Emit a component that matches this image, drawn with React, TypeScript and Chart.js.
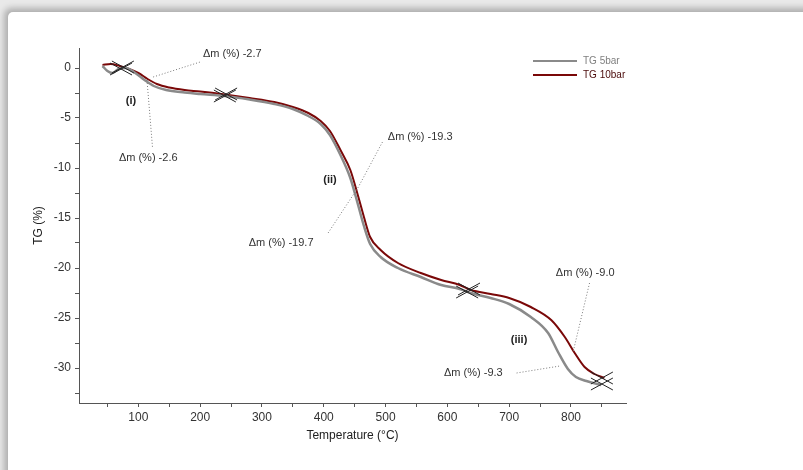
import React, { useEffect, useRef } from 'react';
import { Chart, registerables } from 'chart.js';

Chart.register(...registerables);

// ---- Data ----
const T_10BAR = [42, 55, 70, 85, 100, 115, 130, 150, 175, 200, 240, 280, 320, 350, 375, 395, 410, 427, 443, 456, 465, 475, 492, 520, 557, 590, 620, 638, 670, 700, 735, 768, 790, 806, 822, 838, 854];
const TG_10BAR = [0.3, 0.4, 0.2, -0.1, -0.5, -1.1, -1.6, -1.95, -2.2, -2.35, -2.65, -3.0, -3.4, -3.9, -4.5, -5.3, -6.3, -8.2, -10.2, -12.9, -14.9, -16.9, -18.2, -19.5, -20.5, -21.2, -21.7, -22.2, -22.6, -23.0, -23.9, -25.2, -26.9, -28.5, -29.9, -30.6, -31.0];

const T_5BAR = [42, 50, 58, 68, 80, 95, 110, 125, 145, 175, 200, 240, 280, 320, 350, 375, 395, 410, 427, 443, 456, 465, 475, 492, 520, 557, 590, 620, 638, 670, 700, 735, 763, 779, 795, 808, 825, 849];
const TG_5BAR = [0.2, -0.3, -0.5, -0.1, 0.0, -0.5, -1.2, -1.8, -2.2, -2.45, -2.6, -2.8, -3.15, -3.6, -4.1, -4.8, -5.6, -6.7, -8.7, -11.0, -13.8, -15.8, -17.6, -18.9, -20.0, -20.9, -21.7, -22.1, -22.5, -23.0, -23.6, -24.9, -26.5, -28.4, -30.1, -30.9, -31.3, -31.7];

const SERIES_NAMES = ['TG 5bar', 'TG 10bar'];

// step markers (X crosses)
const MARK_T_10 = [75, 242, 635, 850];
const MARK_V_10 = [0.1, -2.6, -22.1, -31.0];
const MARK_T_5 = [72, 240, 632, 850];
const MARK_V_5 = [-0.1, -2.8, -22.4, -31.6];

// axis ticks
const X_MIN = 4;
const X_MAX = 889;
const Y_MIN = -33.5;
const Y_MAX = 2;
const X_TICKS = [50, 100, 150, 200, 250, 300, 350, 400, 450, 500, 550, 600, 650, 700, 750, 800, 850];
const X_LABELED = [100, 200, 300, 400, 500, 600, 700, 800];
const Y_TICKS = [0, -2.5, -5, -7.5, -10, -12.5, -15, -17.5, -20, -22.5, -25, -27.5, -30, -32.5];
const Y_LABELED = [0, -5, -10, -15, -20, -25, -30];

// annotations (data units)
const ANNOT_TEXT = ['Δm (%) -2.7', 'Δm (%) -2.6', 'Δm (%) -19.3', 'Δm (%) -19.7', 'Δm (%) -9.0', 'Δm (%) -9.3'];
const ANNOT_T = [252, 116, 556, 331, 823, 642];
const ANNOT_V = [1.4, -9.0, -6.9, -17.5, -20.5, -30.5];
// leader lines: [T1, V1, T2, V2]
const LEADER_T1 = [124, 114, 495, 456, 830, 712];
const LEADER_V1 = [-0.9, -1.2, -7.4, -11.9, -21.5, -30.5];
const LEADER_T2 = [200, 123, 456, 407, 803, 782];
const LEADER_V2 = [0.6, -8.0, -11.9, -16.5, -28.5, -29.8];

const STAGE_TEXT = ['(i)', '(ii)', '(iii)'];
const STAGE_T = [88, 410, 716];
const STAGE_V = [-3.3, -11.2, -27.2];

const FONT = '"Liberation Sans", Arial, sans-serif';
const GRAY = '#8a8a8a';
const RED = '#7a0808';

const overlay = {
  id: 'overlay',
  afterDatasetsDraw(chart: any) {
    const { ctx, scales, chartArea } = chart;
    const xs = scales.x;
    const ys = scales.y;
    ctx.save();

    // leader lines
    ctx.strokeStyle = '#7a7a7a';
    ctx.lineWidth = 1;
    ctx.setLineDash([1, 2]);
    for (let i = 0; i < LEADER_T1.length; i++) {
      ctx.beginPath();
      ctx.moveTo(xs.getPixelForValue(LEADER_T1[i]), ys.getPixelForValue(LEADER_V1[i]));
      ctx.lineTo(xs.getPixelForValue(LEADER_T2[i]), ys.getPixelForValue(LEADER_V2[i]));
      ctx.stroke();
    }
    ctx.setLineDash([]);

    // X markers
    const drawX = (px: number, py: number) => {
      const hw = 11, hh = 6;
      ctx.beginPath();
      ctx.moveTo(px - hw, py - hh);
      ctx.lineTo(px + hw, py + hh);
      ctx.moveTo(px - hw, py + hh);
      ctx.lineTo(px + hw, py - hh);
      ctx.stroke();
    };
    ctx.strokeStyle = '#222';
    ctx.lineWidth = 1;
    for (let i = 0; i < MARK_T_10.length; i++) {
      drawX(xs.getPixelForValue(MARK_T_10[i]), ys.getPixelForValue(MARK_V_10[i]));
      drawX(xs.getPixelForValue(MARK_T_5[i]), ys.getPixelForValue(MARK_V_5[i]));
    }

    // annotation text
    ctx.fillStyle = '#333';
    ctx.font = `11px ${FONT}`;
    ctx.textAlign = 'center';
    ctx.textBaseline = 'middle';
    for (let i = 0; i < ANNOT_TEXT.length; i++) {
      ctx.fillText(ANNOT_TEXT[i], xs.getPixelForValue(ANNOT_T[i]), ys.getPixelForValue(ANNOT_V[i]));
    }
    ctx.font = `bold 11px ${FONT}`;
    ctx.fillStyle = '#222';
    for (let i = 0; i < STAGE_TEXT.length; i++) {
      ctx.fillText(STAGE_TEXT[i], xs.getPixelForValue(STAGE_T[i]), ys.getPixelForValue(STAGE_V[i]));
    }

    // legend
    const lx0 = chartArea.right - 93;
    const lx1 = chartArea.right - 49;
    const colors = [GRAY, RED];
    const textColors = ['#808080', '#4a0a0a'];
    ctx.font = `10px ${FONT}`;
    ctx.textAlign = 'left';
    for (let i = 0; i < SERIES_NAMES.length; i++) {
      const ly = chartArea.top + 13 + i * 14;
      ctx.strokeStyle = colors[i];
      ctx.lineWidth = 2;
      ctx.beginPath();
      ctx.moveTo(lx0, ly);
      ctx.lineTo(lx1, ly);
      ctx.stroke();
      ctx.fillStyle = textColors[i];
      ctx.fillText(SERIES_NAMES[i], lx1 + 6, ly);
    }
    ctx.restore();
  },
};

export default function App() {
  const ref = useRef<HTMLCanvasElement>(null);

  useEffect(() => {
    if (!ref.current) return;
    const gridCfg = { drawOnChartArea: false, drawTicks: true, tickLength: 4, color: '#555', lineWidth: 1 };
    const borderCfg = { display: true, color: '#555', width: 1 };
    const chart = new Chart(ref.current, {
      type: 'line',
      data: {
        datasets: [
          {
            label: SERIES_NAMES[0],
            data: T_5BAR.map((t, i) => ({ x: t, y: TG_5BAR[i] })),
            borderColor: GRAY,
            borderWidth: 2.5,
            pointRadius: 0,
            tension: 0.4,
            cubicInterpolationMode: 'monotone',
            fill: false,
          },
          {
            label: SERIES_NAMES[1],
            data: T_10BAR.map((t, i) => ({ x: t, y: TG_10BAR[i] })),
            borderColor: RED,
            borderWidth: 2,
            pointRadius: 0,
            tension: 0.4,
            cubicInterpolationMode: 'monotone',
            fill: false,
          },
        ],
      },
      options: {
        responsive: false,
        animation: false,
        layout: { padding: { left: 0, right: 177, top: 48, bottom: 0 } },
        plugins: { legend: { display: false }, tooltip: { enabled: false } },
        scales: {
          x: {
            type: 'linear',
            min: X_MIN,
            max: X_MAX,
            afterBuildTicks: (s: any) => { s.ticks = X_TICKS.map((v) => ({ value: v })); },
            afterFit: (s: any) => { s.height = 67; },
            ticks: {
              autoSkip: false,
              maxRotation: 0,
              padding: 3,
              color: '#333',
              font: { family: FONT, size: 12 },
              callback: (v: any) => (X_LABELED.includes(Number(v)) ? String(v) : ''),
            },
            grid: gridCfg,
            border: borderCfg,
            title: {
              display: true,
              text: 'Temperature (°C)',
              color: '#222',
              font: { family: FONT, size: 12 },
              padding: { top: 0, bottom: 27 },
            },
          },
          y: {
            type: 'linear',
            min: Y_MIN,
            max: Y_MAX,
            afterBuildTicks: (s: any) => { s.ticks = Y_TICKS.map((v) => ({ value: v })); },
            afterFit: (s: any) => { s.width = 79; },
            ticks: {
              autoSkip: false,
              padding: 4,
              color: '#333',
              font: { family: FONT, size: 12 },
              callback: (v: any) => (Y_LABELED.includes(Number(v)) ? String(v) : ''),
            },
            grid: gridCfg,
            border: borderCfg,
            title: {
              display: true,
              text: 'TG (%)',
              color: '#222',
              font: { family: FONT, size: 12 },
              padding: { top: 31, bottom: 0 },
            },
          },
        },
      },
      plugins: [overlay],
    } as any);
    return () => chart.destroy();
  }, []);

  return (
    <div style={{ position: 'fixed', left: 0, top: 0, width: 803, height: 470, overflow: 'hidden', background: '#e9e9e9' }}>
      <div
        style={{
          position: 'absolute',
          left: 8,
          top: 12,
          width: 830,
          height: 500,
          background: '#fff',
          borderTopLeftRadius: 5,
          boxShadow: '-2px -2px 6px 2px rgba(0,0,0,0.25)',
        }}
      />
      <canvas ref={ref} width={803} height={470} style={{ position: 'absolute', left: 0, top: 0 }} />
    </div>
  );
}
